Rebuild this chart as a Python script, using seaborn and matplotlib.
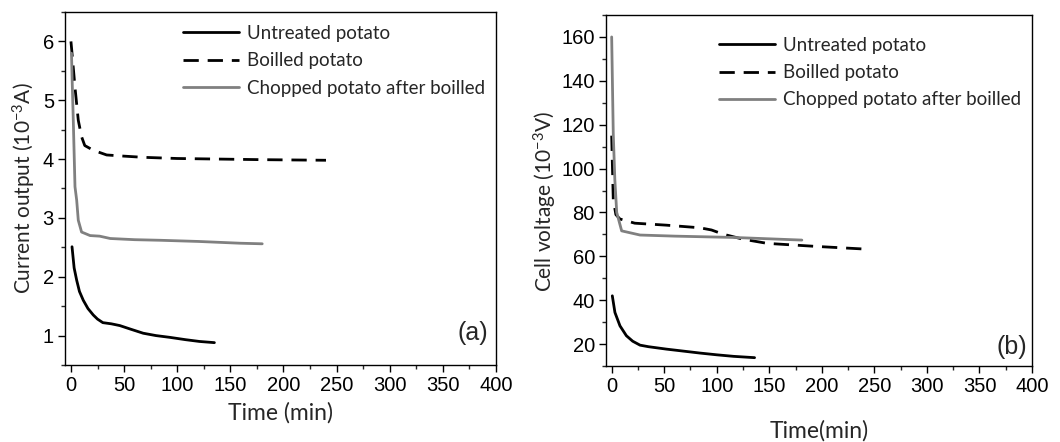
import numpy as np
import pandas as pd
import matplotlib
matplotlib.use("Agg")
import matplotlib.pyplot as plt
from matplotlib.ticker import MultipleLocator
import seaborn as sns

sns.set_theme(style="white")
plt.rcParams['font.family'] = ['Liberation Sans', 'DejaVu Sans']
plt.rcParams['mathtext.fontset'] = 'custom'
plt.rcParams['mathtext.rm'] = 'Lato'
plt.rcParams['mathtext.it'] = 'Lato:italic'
plt.rcParams['mathtext.default'] = 'regular'

series_names = ["Untreated potato", "Boilled potato", "Chopped potato after boilled"]

# Panel (a): current output (10^-3 A)
a_untreated_t = [1, 3, 5.4, 8, 11.6, 16, 21, 25, 30, 38, 46, 56, 68, 80, 93, 108, 121, 135]
a_untreated_v = [2.51, 2.15, 1.94, 1.75, 1.6, 1.46, 1.35, 1.28, 1.22, 1.2, 1.17, 1.11, 1.04, 1.0, 0.97, 0.93, 0.9, 0.88]
a_boiled_t = [0, 1.5, 3.8, 6.9, 10, 13, 21, 33.6, 50, 68, 100, 140, 180, 240]
a_boiled_v = [6.0, 5.7, 5.22, 4.66, 4.38, 4.23, 4.15, 4.07, 4.05, 4.03, 4.01, 4.0, 3.99, 3.98]
a_chopped_t = [0.5, 1.2, 2.2, 3.8, 5.4, 6.9, 10, 18, 27, 37, 60, 84, 120, 159, 180]
a_chopped_v = [5.8, 5.3, 4.66, 3.53, 3.3, 2.96, 2.76, 2.7, 2.69, 2.65, 2.63, 2.62, 2.6, 2.57, 2.56]

# Panel (b): cell voltage (10^-3 V)
b_untreated_t = [0.6, 3.1, 7.9, 14, 20, 27, 35, 52, 68, 84, 100, 116, 136]
b_untreated_v = [42, 34.4, 28.3, 23.8, 21.3, 19.5, 18.8, 17.7, 16.8, 15.9, 15.1, 14.4, 13.8]
b_boiled_t = [0, 1.5, 4, 7.9, 22, 52, 84, 95, 106, 125, 148, 195, 241]
b_boiled_v = [115, 86, 79, 77, 75.1, 74.2, 73, 72, 70.1, 67.8, 65.9, 64.5, 63.3]
b_chopped_t = [0, 1.5, 3, 4.8, 9.5, 27, 60, 116, 181]
b_chopped_v = [160, 116, 95, 80, 71.6, 69.7, 69.2, 68.6, 67.4]

colors = ["black", "black", "#808080"]
styles = ["-", "--", "-"]

fig = plt.figure(figsize=(10.6, 4.42), dpi=100)
ax1 = fig.add_axes([65/1060, 1-365/442, 431/1060, 353/442])
ax2 = fig.add_axes([606/1060, 1-366/442, 426/1060, 351/442])

def draw(ax, ts, vs):
    for name, t, v, c, ls in zip(series_names, ts, vs, colors, styles):
        df = pd.DataFrame({"t": t, "v": v})
        sns.lineplot(data=df, x="t", y="v", ax=ax, color=c, lw=2.0,
                     label=name, sort=False, estimator=None)
        line = ax.get_lines()[-1]
        if ls == "--":
            line.set_dashes((5.5, 3.2))

draw(ax1, [a_untreated_t, a_boiled_t, a_chopped_t], [a_untreated_v, a_boiled_v, a_chopped_v])
draw(ax2, [b_untreated_t, b_boiled_t, b_chopped_t], [b_untreated_v, b_boiled_v, b_chopped_v])

ax1.set_xlim(-5.6, 400)
ax1.set_ylim(0.5, 6.5)
ax2.set_xlim(-5.4, 400)
ax2.set_ylim(10, 170)

ax1.yaxis.set_major_locator(MultipleLocator(1))
ax1.yaxis.set_minor_locator(MultipleLocator(0.5))
ax2.yaxis.set_major_locator(MultipleLocator(20))
ax2.yaxis.set_minor_locator(MultipleLocator(10))
for ax, anchor_y in ((ax1, 0.995), (ax2, 0.97)):
    ax.xaxis.set_major_locator(MultipleLocator(50))
    ax.xaxis.set_minor_locator(MultipleLocator(25))
    ax.tick_params(axis='both', which='major', direction='out', length=5, width=1,
                   labelsize=14.5, colors='black', bottom=True, left=True, top=False, right=False, pad=3)
    ax.tick_params(axis='both', which='minor', direction='out', length=3, width=1,
                   bottom=True, left=True, top=False, right=False)
    for s in ax.spines.values():
        s.set_visible(True)
        s.set_color('black')
        s.set_linewidth(1.0)
    ax.legend(loc='upper right', frameon=False, prop={'family': 'Lato', 'size': 13.5},
              handlelength=3.0, handletextpad=0.4, labelspacing=0.55,
              borderaxespad=0.2, bbox_to_anchor=(1.0, anchor_y))

ax1.set_xlabel("Time (min)", fontfamily='Lato', fontsize=16.5, labelpad=5)
ax1.set_ylabel("Current output (10$^{-3}$A)", fontfamily='Lato', fontsize=15, labelpad=3)
ax2.set_xlabel("Time(min)", fontfamily='Lato', fontsize=16.5, labelpad=17)
ax2.set_ylabel("Cell voltage (10$^{-3}$V)", fontfamily='Lato', fontsize=15, labelpad=3)
ax2.yaxis.set_label_coords(-0.11, 0.47)

ax1.text(0.981, 0.09, "(a)", transform=ax1.transAxes, ha='right', va='center', fontsize=18)
ax2.text(0.988, 0.054, "(b)", transform=ax2.transAxes, ha='right', va='center', fontsize=18)

fig.savefig("out.png", dpi=100)
